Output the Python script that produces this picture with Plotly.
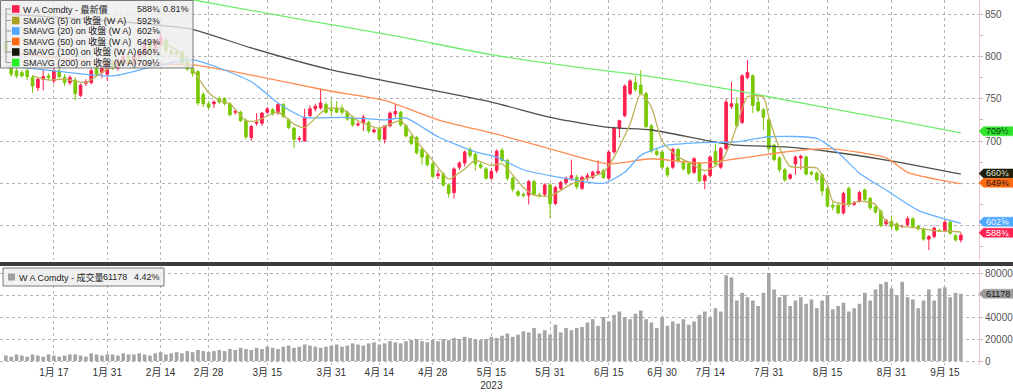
import pandas as pd
import plotly.graph_objects as go

# ---------------- data ----------------
holidays = ["2023-01-16", "2023-02-20", "2023-04-07", "2023-05-29",
            "2023-06-19", "2023-07-04", "2023-09-04"]
days = pd.bdate_range("2023-01-03", "2023-09-20")
dates = [d.strftime("%Y-%m-%d") for d in days if d.strftime("%Y-%m-%d") not in holidays]

opens = [817, 789, 783, 781, 783, 775, 763, 773, 777, 771,
         783, 775, 769, 772, 754, 768, 769, 787, 781, 779,
         793, 786, 795, 800, 792, 800, 803, 815, 808, 815,
         819, 806, 805, 805, 795, 786, 782, 755, 744, 744,
         750, 750, 744, 734, 734, 724, 704, 721, 721, 734,
         737, 733, 743, 725, 715, 702, 700, 730, 738, 739,
         743, 737, 739, 739, 734, 728, 719, 721, 722, 711,
         714, 702, 718, 732, 734, 718, 705, 704, 690, 683,
         673, 659, 661, 648, 639, 669, 674, 690, 684, 672,
         667, 656, 665, 689, 677, 656, 640, 637, 636, 652,
         636, 637, 648, 626, 644, 651, 656, 657, 644, 656,
         657, 662, 665, 656, 687, 715, 730, 756, 769, 766,
         756, 718, 688, 687, 668, 669, 690, 675, 673, 663,
         673, 653, 659, 688, 669, 691, 741, 744, 722, 775,
         777, 746, 737, 725, 695, 680, 666, 656, 673, 680,
         681, 663, 662, 660, 644, 624, 624, 615, 644, 625,
         629, 642, 632, 622, 617, 602, 605, 602, 599, 601,
         608, 599, 596, 584, 587, 594, 594, 604, 588, 583]
highs = [821, 792, 786, 784, 787, 778, 775, 784, 780, 786,
         786, 779, 778, 775, 768, 773, 786, 790, 788, 797,
         796, 798, 803, 802, 803, 809, 818, 818, 821, 829,
         822, 809, 808, 807, 797, 789, 784, 758, 747, 748,
         753, 752, 746, 738, 736, 727, 719, 733, 734, 740,
         739, 745, 745, 727, 717, 706, 738, 742, 744, 762,
         746, 749, 747, 743, 736, 730, 723, 731, 724, 715,
         717, 718, 735, 743, 736, 720, 707, 706, 692, 686,
         675, 666, 663, 650, 669, 676, 689, 693, 686, 675,
         669, 668, 690, 692, 679, 658, 642, 639, 654, 654,
         639, 650, 650, 647, 653, 658, 678, 660, 659, 662,
         665, 677, 667, 689, 717, 725, 767, 773, 777, 784,
         758, 720, 692, 689, 670, 692, 692, 677, 675, 681,
         675, 661, 683, 697, 693, 750, 770, 752, 779, 796,
         779, 752, 739, 727, 697, 682, 668, 662, 683, 684,
         683, 665, 664, 662, 646, 628, 626, 640, 646, 629,
         641, 644, 634, 624, 619, 608, 612, 604, 601, 611,
         610, 601, 598, 589, 599, 596, 607, 606, 590, 592]
lows = [803, 776, 774, 775, 772, 757, 759, 760, 772, 768,
        774, 765, 766, 748, 752, 765, 767, 776, 774, 771,
        784, 783, 792, 789, 790, 797, 801, 805, 806, 812,
        804, 801, 800, 791, 783, 776, 742, 740, 738, 739,
        744, 742, 729, 731, 722, 702, 700, 718, 718, 732,
        730, 731, 727, 714, 692, 699, 699, 728, 735, 737,
        732, 730, 733, 731, 724, 717, 717, 712, 709, 709,
        700, 697, 716, 728, 717, 704, 695, 684, 672, 670,
        656, 655, 646, 633, 632, 666, 670, 680, 665, 667,
        654, 654, 662, 675, 653, 640, 634, 633, 625, 635,
        633, 634, 609, 624, 642, 648, 653, 643, 642, 653,
        655, 660, 655, 654, 685, 704, 728, 754, 758, 754,
        715, 686, 682, 667, 657, 667, 674, 665, 660, 661,
        651, 643, 657, 671, 667, 689, 738, 716, 720, 773,
        733, 734, 713, 689, 676, 663, 652, 654, 660, 666,
        659, 659, 651, 635, 621, 618, 613, 613, 622, 623,
        627, 628, 618, 614, 598, 599, 596, 593, 597, 599,
        597, 594, 582, 571, 585, 592, 592, 589, 581, 580]
closes = [805, 779, 777, 777, 776, 765, 773, 776, 775, 783,
          776, 769, 775, 756, 766, 770, 783, 779, 786, 793,
          786, 795, 800, 792, 800, 806, 815, 808, 818, 822,
          807, 804, 803, 793, 785, 780, 745, 744, 740, 746,
          746, 744, 731, 735, 724, 705, 717, 722, 733, 738,
          732, 743, 729, 716, 702, 703, 728, 738, 741, 745,
          734, 736, 734, 734, 726, 719, 720, 728, 712, 713,
          702, 718, 733, 735, 719, 706, 697, 686, 681, 672,
          658, 661, 648, 638, 667, 674, 687, 683, 673, 669,
          656, 664, 688, 677, 656, 643, 636, 636, 652, 637,
          636, 648, 626, 645, 651, 656, 659, 646, 657, 659,
          663, 664, 657, 687, 715, 724, 765, 771, 761, 756,
          717, 688, 684, 669, 660, 690, 677, 667, 662, 679,
          653, 659, 681, 673, 691, 746, 744, 718, 777, 781,
          742, 736, 728, 691, 678, 666, 654, 660, 681, 682,
          661, 661, 654, 641, 623, 622, 615, 638, 625, 627,
          639, 631, 621, 616, 600, 606, 599, 595, 599, 608,
          599, 596, 584, 587, 597, 593, 604, 591, 583, 588.75]

volume = [5000, 4000, 6000, 5000, 4000, 6000, 5000, 4000, 6000, 5000,
          4000, 5000, 6000, 6000, 5000, 4000, 7000, 6000, 5000, 6000,
          6000, 5000, 7000, 6000, 6000, 7000, 6000, 5000, 7000, 8000,
          6000, 7000, 8000, 7000, 9000, 8000, 10000, 9000, 8000, 9000,
          10000, 9000, 11000, 10000, 12000, 11000, 10000, 12000, 11000, 13000,
          12000, 11000, 13000, 14000, 12000, 13000, 15000, 14000, 13000, 12000,
          13000, 14000, 15000, 13000, 14000, 16000, 15000, 14000, 16000, 17000,
          15000, 16000, 18000, 17000, 16000, 18000, 19000, 20000, 18000, 17000,
          19000, 18000, 20000, 19000, 21000, 20000, 22000, 21000, 20000, 19000,
          20000, 22000, 21000, 23000, 25000, 22000, 24000, 27000, 26000, 30000,
          25000, 28000, 24000, 33000, 26000, 30000, 28000, 30000, 31000, 35000,
          38000, 32000, 40000, 36000, 42000, 45000, 40000, 38000, 43000, 46000,
          38000, 35000, 30000, 40000, 32000, 36000, 34000, 38000, 33000, 36000,
          42000, 45000, 40000, 48000, 45000, 78000, 76000, 55000, 62000, 58000,
          55000, 50000, 62000, 80000, 65000, 58000, 60000, 50000, 55000, 58000,
          52000, 56000, 48000, 55000, 60000, 47000, 50000, 53000, 45000, 48000,
          52000, 62000, 55000, 65000, 70000, 72000, 66000, 60000, 72000, 58000,
          56000, 48000, 55000, 65000, 55000, 66000, 67000, 58000, 62000, 61178]

sma5_day = [5, 8, 11, 15, 17, 19, 22, 25, 27, 30, 33, 35, 38, 40, 42, 45, 47, 51, 54, 56,
            60, 63, 66, 70, 72, 74, 77, 80, 83, 86, 88, 91, 93, 97, 99, 102, 106, 109,
            112, 114, 117, 119, 121, 123, 126, 128, 131, 134, 136, 137, 139, 142, 143,
            145, 147, 150, 152, 154, 155, 158, 160, 163, 165, 168, 171, 174, 178, 179]
sma5_val = [777, 772, 773, 769, 777, 785, 793, 798, 806, 814, 803, 785, 757, 748, 744, 724,
            724, 734, 720, 716, 738, 738, 724, 715, 720, 724, 700, 677, 655, 667, 677, 671,
            673, 645, 636, 635, 649, 656, 663, 681, 720, 756, 740, 700, 681, 675, 665, 675,
            700, 718, 752, 752, 728, 692, 670, 669, 668, 648, 629, 625, 629, 625, 605, 599,
            597, 594, 593, 592.4]
sma20_day = [0, 9, 20, 27, 35, 46, 51, 56, 63, 71, 75, 81, 88, 92, 97, 103, 112, 116,
             119, 124, 130, 137, 143, 152, 156, 160, 165, 171, 179]
sma20_val = [789, 783, 777, 787, 796, 770, 745, 728, 728, 725, 727, 705, 687, 681, 666,
             658, 650, 663, 683, 695, 698, 699, 705, 703, 686, 662, 642, 618, 602.6]
sma50_day = [0, 10, 20, 35, 46, 60, 71, 81, 92, 103, 113, 121, 130, 137, 146, 154, 165, 169, 179]
sma50_val = [805, 798, 792, 790, 778, 760, 748, 725, 708, 689, 673, 679, 674, 679, 687,
             691, 680, 663, 649.4]
sma100_day = [0, 10, 20, 30, 35, 46, 61, 91, 102, 113, 121, 131, 137, 146, 155, 165, 169, 179]
sma100_val = [850, 846, 842, 836, 832, 810, 784, 746, 728, 716, 713, 701, 695, 693, 687,
              677.5, 673, 660.75]
sma200_day = [35, 55, 74, 91, 111, 119, 137, 149, 167, 179]
sma200_val = [867, 844, 823, 802, 784, 778, 759.5, 745, 724, 709.5]

tick_dates = ["2023-01-17", "2023-01-31", "2023-02-14", "2023-02-28", "2023-03-15",
              "2023-03-31", "2023-04-14", "2023-04-28", "2023-05-15", "2023-05-31",
              "2023-06-15", "2023-06-30", "2023-07-14", "2023-07-31", "2023-08-15",
              "2023-08-31", "2023-09-15"]
tick_text = ["1月 17", "1月 31", "2月 14", "2月 28", "3月 15", "3月 31", "4月 14",
             "4月 28", "5月 15<br>2023", "5月 31", "6月 15", "6月 30", "7月 14", "7月 31",
             "8月 15", "8月 31", "9月 15"]
price_ticks = [600, 650, 700, 750, 800, 850]
price_tick_text = ["", "", "700", "750", "800", "850"]      # 600/650 sit under the value tags
vol_ticks = [0, 20000, 40000, 60000, 80000]
vol_tick_text = ["0", "20000", "40000", "", "80000"]        # 60000 sits under the value tag

legend_rows = ["W A Comdty - 最新價", "SMAVG (5) on 收盤 (W A)", "SMAVG (20) on 收盤 (W A)",
               "SMAVG (50) on 收盤 (W A)", "SMAVG (100) on 收盤 (W A)", "SMAVG (200) on 收盤 (W A)"]
legend_vals = ["588¾", "592⅜", "602⅝", "649⅜", "660¾", "709½"]

# ---------------- styling ----------------
FONT = "Liberation Sans, Noto Sans CJK TC, sans-serif"
RED = "#ff1f4e"
GREEN = "#78c800"
C5, C20, C50, C100, C200 = "#bdb35a", "#66b2ff", "#ff8c50", "#4f4f45", "#6fee6f"
W, H = 1013, 392
ML, MR, MT, MB = 0, 34, 0, 27
PW, PH = W - ML - MR, H - MT - MB


def px(x):
    return x / PW


def py(y):
    return 1 - y / PH


fig = go.Figure()
fig.add_trace(go.Candlestick(
    x=dates, open=opens, high=highs, low=lows, close=closes,
    increasing=dict(line=dict(color=RED, width=1), fillcolor=RED),
    decreasing=dict(line=dict(color=GREEN, width=1), fillcolor=GREEN),
    whiskerwidth=0, xaxis="x", yaxis="y", hoverinfo="skip"))

for d, v, c in [(sma200_day, sma200_val, C200), (sma100_day, sma100_val, C100),
                (sma50_day, sma50_val, C50), (sma20_day, sma20_val, C20),
                (sma5_day, sma5_val, C5)]:
    fig.add_trace(go.Scatter(x=[dates[k] for k in d], y=v, mode="lines",
                             line=dict(color=c, width=1.3, shape="spline", smoothing=0.6),
                             xaxis="x", yaxis="y", hoverinfo="skip"))

fig.add_trace(go.Bar(x=dates, y=volume, marker=dict(color="#a5a5a5", line=dict(width=0)),
                     xaxis="x2", yaxis="y2", hoverinfo="skip"))

grid = dict(showgrid=True, gridcolor="#b4b4b4", griddash="dot", gridwidth=1)
fig.update_layout(
    width=W, height=H, margin=dict(l=ML, r=MR, t=MT, b=MB),
    paper_bgcolor="white", plot_bgcolor="white", showlegend=False, bargap=0.32,
    font=dict(family=FONT, size=10, color="#333"),
    xaxis=dict(type="category", domain=[0, 1], anchor="y", range=[-1.1, 182.4],
               tickvals=tick_dates, showticklabels=False, ticks="",
               rangeslider=dict(visible=False), zeroline=False, **grid),
    xaxis2=dict(type="category", domain=[0, 1], anchor="y2", matches="x",
                tickvals=tick_dates, ticktext=tick_text, ticks="",
                tickfont=dict(size=10, color="#333"), zeroline=False, **grid),
    yaxis=dict(domain=[py(260), 1], side="right", range=[559.3, 866.7],
               tickvals=price_ticks, ticktext=price_tick_text,
               tickfont=dict(size=10, color="#555"),
               showline=True, linecolor="#f6c3cc", ticks="outside", ticklen=3,
               tickcolor="#bbb", minor=dict(dtick=25, ticks="outside", ticklen=3, tickcolor="#bbb"),
               zeroline=False, **grid),
    yaxis2=dict(domain=[0, py(267)], side="right", range=[-3636, 85455],
                tickvals=vol_ticks, ticktext=vol_tick_text,
                tickfont=dict(size=10, color="#555"),
                showline=True, linecolor="#f6c3cc", ticks="outside", ticklen=3,
                tickcolor="#bbb", zeroline=False, **grid),
)

shapes = []
ann = []

# separator band
shapes.append(dict(type="rect", xref="paper", yref="paper", x0=0, x1=px(W), y0=py(266),
                   y1=py(262), fillcolor="#3c3c3c", line=dict(width=0), layer="above"))

# price legend box
shapes.append(dict(type="rect", xref="paper", yref="paper", x0=px(0.5), x1=px(193),
                   y0=py(68), y1=py(0.5), fillcolor="rgba(236,236,236,0.78)",
                   line=dict(color="#7a7a7a", width=1), layer="above"))
row_y = [9, 20.5, 31, 41.5, 52, 62.5]
sq_cols = [RED, "#a9a020", "#4da6ff", "#ff6a10", "#14170a", "#22ee22"]
shapes.append(dict(type="line", xref="paper", yref="paper", x0=px(6), x1=px(6),
                   y0=py(row_y[-1]), y1=py(8), line=dict(color="#999", width=1), layer="above"))
for ry, col in zip(row_y, sq_cols):
    shapes.append(dict(type="line", xref="paper", yref="paper", x0=px(6), x1=px(11),
                       y0=py(ry), y1=py(ry), line=dict(color="#999", width=1), layer="above"))
    shapes.append(dict(type="rect", xref="paper", yref="paper", x0=px(12), x1=px(19.5),
                       y0=py(ry + 3.8), y1=py(ry - 3.8), fillcolor=col,
                       line=dict(width=0), layer="above"))
for ry, t, v in zip(row_y, legend_rows, legend_vals):
    ann.append(dict(xref="paper", yref="paper", x=px(21), y=py(ry), text=t, showarrow=False,
                    xanchor="left", yanchor="middle", font=dict(size=9, color="#222")))
    ann.append(dict(xref="paper", yref="paper", x=px(162), y=py(ry), text=v, showarrow=False,
                    xanchor="right", yanchor="middle", font=dict(size=9, color="#222")))
ann.append(dict(xref="paper", yref="paper", x=px(191), y=py(row_y[0]), text="0.81%",
                showarrow=False, xanchor="right", yanchor="middle",
                font=dict(size=9, color="#222")))

# volume legend box
shapes.append(dict(type="rect", xref="paper", yref="paper", x0=px(3), x1=px(164),
                   y0=py(286), y1=py(268), fillcolor="rgba(240,240,240,0.9)",
                   line=dict(color="#7a7a7a", width=1), layer="above"))
shapes.append(dict(type="rect", xref="paper", yref="paper", x0=px(8), x1=px(15),
                   y0=py(280.5), y1=py(273.5), fillcolor="#a0a0a0", line=dict(width=0),
                   layer="above"))
ann.append(dict(xref="paper", yref="paper", x=px(17), y=py(277), text="W A Comdty - 成交量",
                showarrow=False, xanchor="left", yanchor="middle",
                font=dict(size=9, color="#222")))
ann.append(dict(xref="paper", yref="paper", x=px(101), y=py(277), text="61178",
                showarrow=False, xanchor="left", yanchor="middle",
                font=dict(size=9, color="#222")))
ann.append(dict(xref="paper", yref="paper", x=px(162), y=py(277), text="4.42%",
                showarrow=False, xanchor="right", yanchor="middle",
                font=dict(size=9, color="#222")))

# right-hand value tags (placed where the reference draws them)
tags = [("y", 711.5, "709½", "#2fe62f", "#0a300a"),
        ("y", 661.6, "660¾", "#1b1f0c", "#e0e0d0"),
        ("y", 650.6, "649⅜", "#ff6a10", "#1a1a1a"),
        ("y", 604.6, "602⅝", "#4da6ff", "#f4f8ff"),
        ("y", 591.6, "588¾", "#ff2050", "#ffffff"),
        ("y2", 61178, "61178", "#9c9c9c", "#1a1a1a")]
for yr, v, t, bg, fg in tags:
    half = 4.5 / 0.846 if yr == "y" else 4.5 * 909
    path = (f"M {px(979)},{v} L {px(983.5)},{v + half} L {px(W + 2)},{v + half} "
            f"L {px(W + 2)},{v - half} L {px(983.5)},{v - half} Z")
    shapes.append(dict(type="path", xref="paper", yref=yr, path=path, fillcolor=bg,
                       line=dict(color=bg, width=0.5), layer="above"))
    ann.append(dict(xref="paper", yref=yr, x=px(984), y=v, text=t, showarrow=False,
                    xanchor="left", yanchor="middle", font=dict(size=9, color=fg)))

fig.update_layout(shapes=shapes, annotations=ann)
fig.write_html("out.html")
